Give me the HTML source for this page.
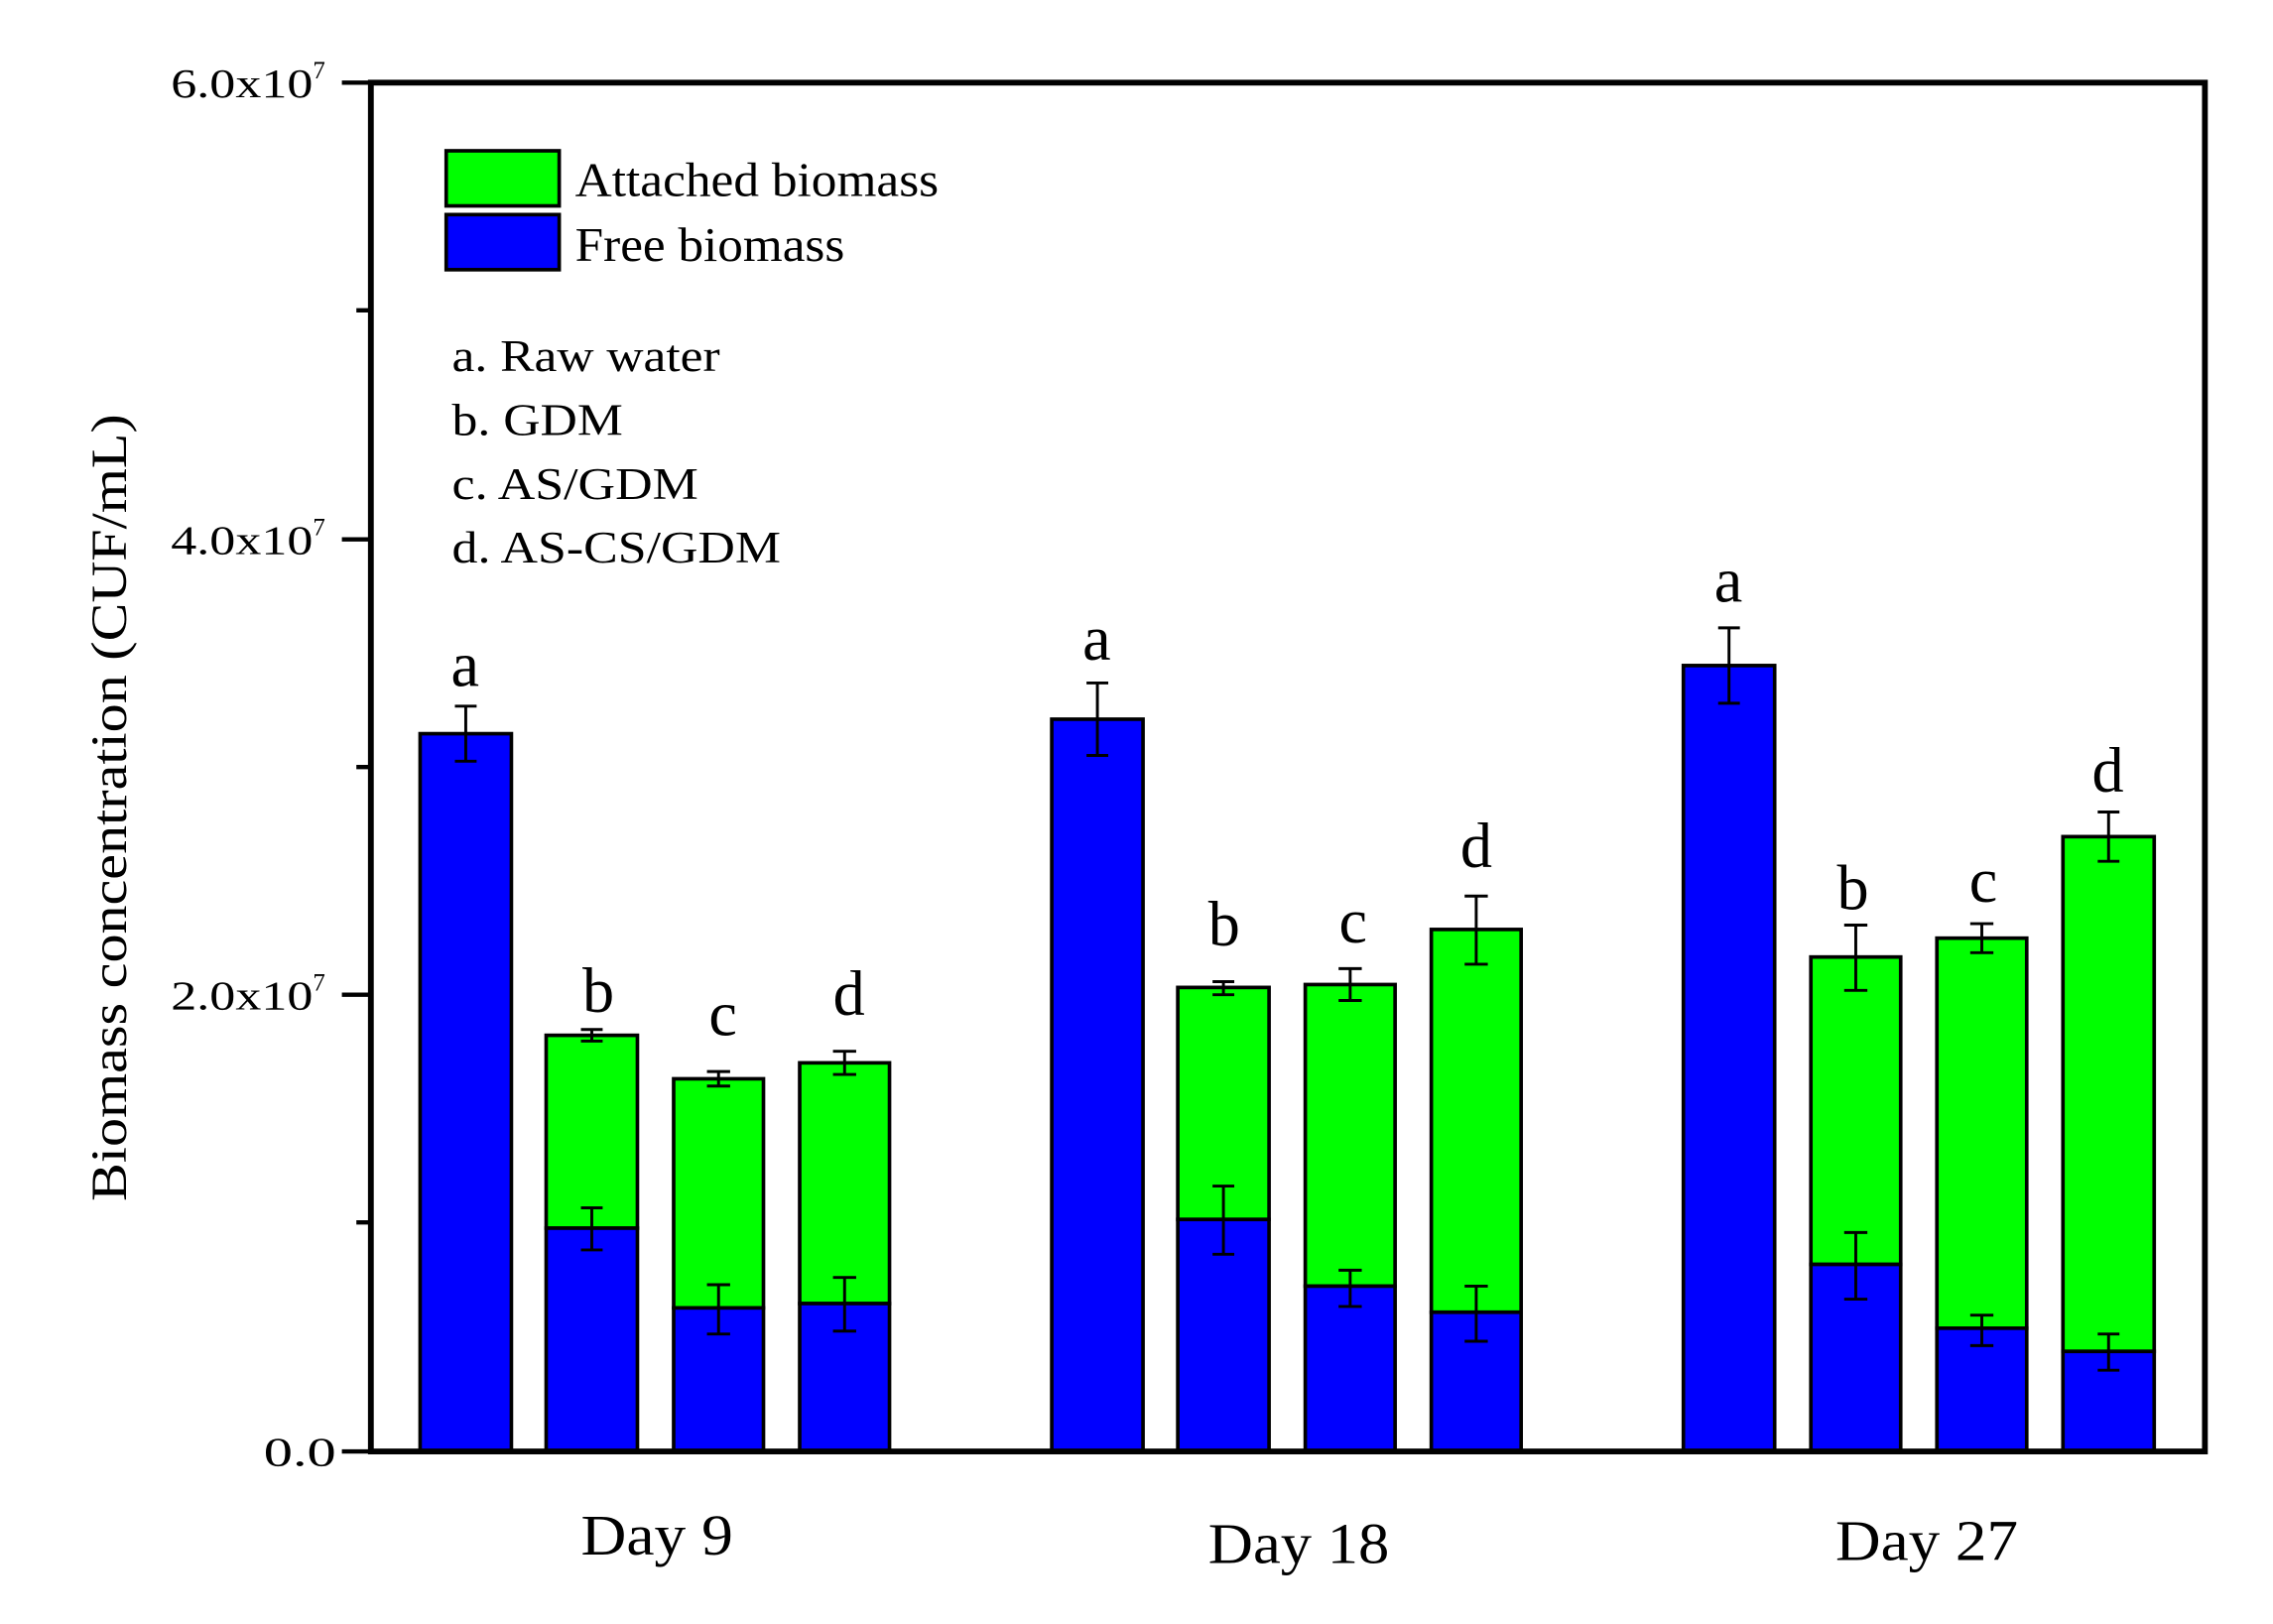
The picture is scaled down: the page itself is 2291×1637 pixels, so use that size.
<!DOCTYPE html>
<html><head><meta charset="utf-8"><style>html,body{margin:0;padding:0;background:#fff}svg{display:block}</style></head><body>
<svg width="2291" height="1637" viewBox="0 0 1569 1120" preserveAspectRatio="none" xmlns="http://www.w3.org/2000/svg" font-family="Liberation Serif, serif">
<rect width="1569" height="1120" fill="#fff"/>
<g stroke="#000" stroke-width="2.5">
<rect x="290" y="506" width="63" height="495" fill="#0000ff"/>
<rect x="377" y="714" width="63" height="133" fill="#00ff00"/><rect x="377" y="847" width="63" height="154" fill="#0000ff"/>
<rect x="465" y="744" width="62" height="158" fill="#00ff00"/><rect x="465" y="902" width="62" height="99" fill="#0000ff"/>
<rect x="552" y="733" width="62" height="166" fill="#00ff00"/><rect x="552" y="899" width="62" height="102" fill="#0000ff"/>
<rect x="726" y="496" width="63" height="505" fill="#0000ff"/>
<rect x="813" y="681" width="63" height="160" fill="#00ff00"/><rect x="813" y="841" width="63" height="160" fill="#0000ff"/>
<rect x="901" y="679" width="62" height="208" fill="#00ff00"/><rect x="901" y="887" width="62" height="114" fill="#0000ff"/>
<rect x="988" y="641" width="62" height="264" fill="#00ff00"/><rect x="988" y="905" width="62" height="96" fill="#0000ff"/>
<rect x="1162" y="459" width="63" height="542" fill="#0000ff"/>
<rect x="1250" y="660" width="62" height="212" fill="#00ff00"/><rect x="1250" y="872" width="62" height="129" fill="#0000ff"/>
<rect x="1337" y="647" width="62" height="269" fill="#00ff00"/><rect x="1337" y="916" width="62" height="85" fill="#0000ff"/>
<rect x="1424" y="577" width="63" height="355" fill="#00ff00"/><rect x="1424" y="932" width="63" height="69" fill="#0000ff"/>
</g>
<g stroke="#000" stroke-width="2" fill="none">
<path d="M321.5 487V525M314 487H329M314 525H329"/>
<path d="M408.5 710V718M401 710H416M401 718H416"/>
<path d="M408.5 833V862M401 833H416M401 862H416"/>
<path d="M496 739V749M488 739H504M488 749H504"/>
<path d="M496 886V920M488 886H504M488 920H504"/>
<path d="M583 725V741M575 725H591M575 741H591"/>
<path d="M583 881V918M575 881H591M575 918H591"/>
<path d="M757.5 471V521M750 471H765M750 521H765"/>
<path d="M844.5 677V686M837 677H852M837 686H852"/>
<path d="M844.5 818V865M837 818H852M837 865H852"/>
<path d="M932 668V690M924 668H940M924 690H940"/>
<path d="M932 876V901M924 876H940M924 901H940"/>
<path d="M1019 618V665M1011 618H1027M1011 665H1027"/>
<path d="M1019 887V925M1011 887H1027M1011 925H1027"/>
<path d="M1193.5 433V485M1186 433H1201M1186 485H1201"/>
<path d="M1281 638V683M1273 638H1289M1273 683H1289"/>
<path d="M1281 850V896M1273 850H1289M1273 896H1289"/>
<path d="M1368 637V657M1360 637H1376M1360 657H1376"/>
<path d="M1368 907V928M1360 907H1376M1360 928H1376"/>
<path d="M1455.5 560V594M1448 560H1463M1448 594H1463"/>
<path d="M1455.5 920V945M1448 920H1463M1448 945H1463"/>
</g>
<rect x="256" y="57" width="1266" height="944" fill="none" stroke="#000" stroke-width="4"/>
<g stroke="#000" stroke-width="3">
<path d="M236 1001H256M236 686H256M236 372H256M236 57H256M246 843H256M246 529H256M246 214H256"/>
</g>
<g font-size="28" fill="#000">
<text x="182" y="1011" textLength="50" lengthAdjust="spacingAndGlyphs">0.0</text>
<text x="118" y="696"><tspan textLength="98" lengthAdjust="spacingAndGlyphs">2.0x10</tspan><tspan font-size="17" dy="-13">7</tspan></text>
<text x="118" y="382"><tspan textLength="98" lengthAdjust="spacingAndGlyphs">4.0x10</tspan><tspan font-size="17" dy="-13">7</tspan></text>
<text x="118" y="67"><tspan textLength="98" lengthAdjust="spacingAndGlyphs">6.0x10</tspan><tspan font-size="17" dy="-13">7</tspan></text>
</g>
<text transform="translate(87,557) rotate(-90)" font-size="35" text-anchor="middle" textLength="543" lengthAdjust="spacingAndGlyphs">Biomass concentration (CUF/mL)</text>
<g font-size="40">
<text x="401" y="1072" textLength="105" lengthAdjust="spacingAndGlyphs">Day 9</text>
<text x="834" y="1078" textLength="125" lengthAdjust="spacingAndGlyphs">Day 18</text>
<text x="1267" y="1076" textLength="126" lengthAdjust="spacingAndGlyphs">Day 27</text>
</g>
<g font-size="44" text-anchor="middle">
<text x="321" y="473">a</text><text x="413" y="698">b</text><text x="499" y="714">c</text><text x="586" y="700">d</text>
<text x="757" y="455">a</text><text x="845" y="652">b</text><text x="934" y="650">c</text><text x="1019" y="598">d</text>
<text x="1193" y="415">a</text><text x="1279" y="627">b</text><text x="1369" y="622">c</text><text x="1455" y="546">d</text>
</g>
<rect x="308" y="104" width="78" height="38" fill="#00ff00" stroke="#000" stroke-width="2.5"/>
<rect x="308" y="148" width="78" height="38" fill="#0000ff" stroke="#000" stroke-width="2.5"/>
<g font-size="33"><text x="397" y="135" textLength="251" lengthAdjust="spacingAndGlyphs">Attached biomass</text><text x="397" y="180" textLength="186" lengthAdjust="spacingAndGlyphs">Free biomass</text></g>
<g font-size="31">
<text x="312" y="256" textLength="185" lengthAdjust="spacingAndGlyphs">a. Raw water</text>
<text x="312" y="300" textLength="118" lengthAdjust="spacingAndGlyphs">b. GDM</text>
<text x="312" y="344" textLength="170" lengthAdjust="spacingAndGlyphs">c. AS/GDM</text>
<text x="312" y="388" textLength="227" lengthAdjust="spacingAndGlyphs">d. AS-CS/GDM</text>
</g>
</svg>
</body></html>
